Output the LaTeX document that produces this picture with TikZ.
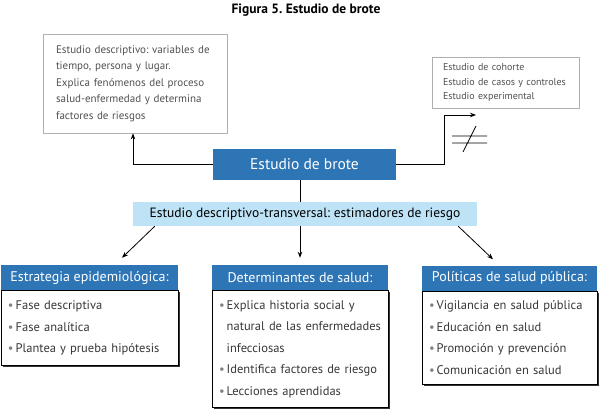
\documentclass[tikz,border=0pt]{standalone}
\usepackage{fontspec}
\setmainfont{PT Sans}
\usetikzlibrary{positioning,arrows.meta,shadows}
\definecolor{azul}{RGB}{46,117,182}
\definecolor{celeste}{RGB}{190,227,246}
\definecolor{grisTexto}{RGB}{80,80,80}
\definecolor{grisBorde}{RGB}{175,175,175}
\definecolor{grisOscuro}{RGB}{55,55,55}
\newcommand{\vineta}{{\color{gray}\textbullet}\,}
\frenchspacing
\begin{document}
\begin{tikzpicture}[x=1pt, y=-1pt,
	caja/.style={draw=grisBorde, line width=0.8pt, text=grisTexto, align=left},
	principal/.style={fill=azul, text=white, font=\fontsize{15.5}{18}\selectfont,
		minimum width=183pt, minimum height=31pt},
	titulo/.style={fill=azul, text=white, font=\fontsize{14}{16}\selectfont,
		minimum height=25pt, inner sep=0pt},
	cuerpo/.style={draw=black, fill=white, line width=0.6pt, align=left,
		text=grisOscuro, font=\fontsize{12.5}{21.5}\selectfont, inner xsep=7pt,
		general shadow={fill=black!80, shadow xshift=1.6pt, shadow yshift=-1.6pt}},
	flecha/.style={-{Stealth[length=6pt,width=4.5pt]}, line width=0.8pt},
	linea/.style={line width=0.8pt}]

\useasboundingbox (0,0) rectangle (600,409);

% titulo de la figura
\node[font=\bfseries\fontsize{13.5}{16}\selectfont] (figura) at (306,10.5) {Figura 5. Estudio de brote};

% cajas superiores
\node[caja, text width=158pt, inner xsep=13pt, minimum height=99pt,
	font=\fontsize{11}{16.5}\selectfont] (descr) at (135,83.5)
	{Estudio descriptivo: variables de\\ tiempo, persona y lugar.\\
	 Explica fenómenos del proceso\\ salud-enfermedad y determina\\ factores de riesgos};
\node[caja, text width=125pt, inner xsep=11pt, minimum height=51pt,
	font=\fontsize{10}{14.5}\selectfont] (cohorte) at (505.5,82.5)
	{Estudio de cohorte\\ Estudio de casos y controles\\ Estudio experimental};

\node[principal] (brote) at (304.5,164.5) {Estudio de brote};
\node[fill=celeste, minimum width=344pt, minimum height=24pt,
	font=\fontsize{13.5}{16}\selectfont] (trans) at (305,214)
	{Estudio descriptivo-transversal: estimadores de riesgo};

% cajas inferiores
\node[titulo, minimum width=177pt] (estrategiaTit) at (89.5,277.5) {Estrategia epidemiológica:};
\node[titulo, minimum width=176pt] (detTit) at (300,277.5) {Determinantes de salud:};
\node[titulo, minimum width=175pt] (polTit) at (509.5,278) {Políticas de salud pública:};

\node[cuerpo, text width=163pt, minimum height=75pt, below=0pt of estrategiaTit] (estrategia)
	{\vineta Fase descriptiva\\ \vineta Fase analítica\\ \vineta Plantea y prueba hipótesis};
\node[cuerpo, text width=162pt, minimum height=117pt, below=0pt of detTit] (det)
	{\vineta Explica historia social y\\ \phantom{\vineta}natural de las enfermedades\\
	 \phantom{\vineta}infecciosas\\ \vineta Identifica factores de riesgo\\ \vineta Lecciones aprendidas};
\node[cuerpo, text width=161pt, minimum height=93pt, below=0pt of polTit] (pol)
	{\vineta Vigilancia en salud pública\\ \vineta Educación en salud\\
	 \vineta Promoción y prevención\\ \vineta Comunicación en salud};

% conectores
\coordinate (codo) at (444,115);
\coordinate (punta) at (476,115);
\draw[flecha] (brote.west) -| ([xshift=-2pt]descr.south);
\draw[flecha] (brote.east) -| (codo) -- (punta);
\draw[linea] (452,136) -- (487,136) (452,143) -- (487,143) (463,152) -- (476,126);
\draw[linea] (brote.south -| detTit.north) -- (trans.north -| detTit.north);
\draw[flecha] ([xshift=22pt]trans.south west) -- ([xshift=32.5pt,yshift=7pt]estrategiaTit.north);
\draw[flecha] (trans.south -| detTit.north) -- ([yshift=7pt]detTit.north);
\draw[flecha] ([xshift=-19pt]trans.south east) -- ([xshift=-16.5pt,yshift=6pt]polTit.north);
\end{tikzpicture}
\end{document}
